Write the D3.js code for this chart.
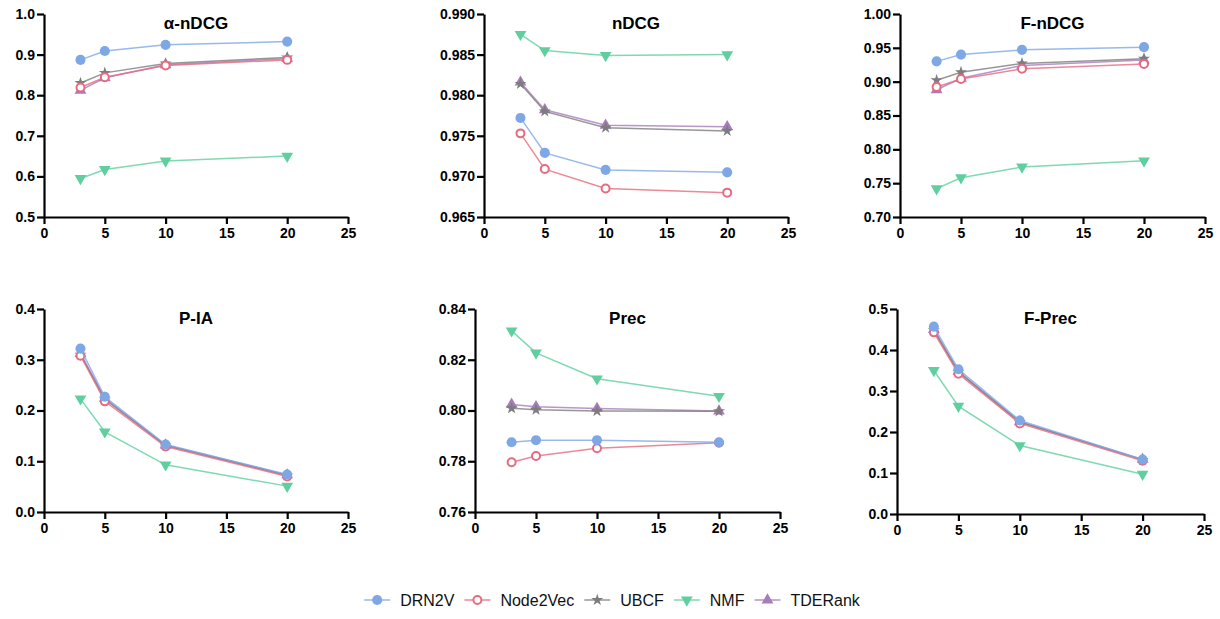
<!DOCTYPE html>
<html lang="en">
<head>
  <meta charset="UTF-8">
  <title>Top-k metric curves</title>
  <style>
    * { margin: 0; padding: 0; box-sizing: border-box; }
    body { background: #ffffff; font-family: 'Liberation Sans', Arial, sans-serif; }
    .axis path, .axis line { stroke: #000; stroke-width: 2.2; }
    .axis text { font-size: 14px; font-weight: bold; fill: #000; font-family: 'Liberation Sans', Arial, sans-serif; }
    .title { font-size: 17px; font-weight: bold; text-anchor: middle; fill: #000; }
    .legend text { font-size: 16px; fill: #111; }
  </style>
  <script src="https://cdn.jsdelivr.net/npm/d3@7/dist/d3.min.js"></script>
</head>
<body>
  <svg id="chart" width="1220" height="619"></svg>

  <script>
    // x = cutoff k
    const kValues = [3, 5, 10, 20];
    const xTicks = [0, 5, 10, 15, 20, 25];
    const methods = ['DRN2V', 'Node2Vec', 'UBCF', 'NMF', 'TDERank'];

    // one row per method, same order as `methods`
    const alphaNDCG = [
      [0.887, 0.909, 0.924, 0.932],
      [0.819, 0.844, 0.873, 0.887],
      [0.830, 0.855, 0.878, 0.893],
      [0.595, 0.617, 0.638, 0.650],
      [0.812, 0.843, 0.875, 0.890]
    ];
    const nDCG = [
      [0.9772, 0.9729, 0.9708, 0.9705],
      [0.9753, 0.9709, 0.9685, 0.9680],
      [0.9814, 0.9780, 0.9760, 0.9756],
      [0.9875, 0.9855, 0.9849, 0.9850],
      [0.9816, 0.9782, 0.9763, 0.9761]
    ];
    const fNDCG = [
      [0.930, 0.940, 0.947, 0.951],
      [0.892, 0.904, 0.919, 0.926],
      [0.902, 0.914, 0.927, 0.934],
      [0.742, 0.758, 0.774, 0.783],
      [0.888, 0.905, 0.924, 0.932]
    ];
    const pIA = [
      [0.322, 0.227, 0.133, 0.074],
      [0.308, 0.218, 0.129, 0.070],
      [0.310, 0.222, 0.131, 0.072],
      [0.223, 0.158, 0.093, 0.051],
      [0.312, 0.224, 0.132, 0.073]
    ];
    const prec = [
      [0.7875, 0.7883, 0.7883, 0.7875],
      [0.7796, 0.7821, 0.7851, 0.7873],
      [0.8009, 0.8003, 0.7998, 0.7997],
      [0.8314, 0.8227, 0.8125, 0.8056],
      [0.8024, 0.8015, 0.8008, 0.7998]
    ];
    const fPrec = [
      [0.457, 0.353, 0.228, 0.133],
      [0.443, 0.342, 0.221, 0.130],
      [0.448, 0.346, 0.224, 0.132],
      [0.350, 0.263, 0.167, 0.097],
      [0.450, 0.348, 0.225, 0.133]
    ];

    const titles = ['α-nDCG', 'nDCG', 'F-nDCG', 'P-IA', 'Prec', 'F-Prec'];
    const metricData = [alphaNDCG, nDCG, fNDCG, pIA, prec, fPrec];
    const yTicks = [
      [0.5, 0.6, 0.7, 0.8, 0.9, 1.0],
      [0.965, 0.970, 0.975, 0.980, 0.985, 0.990],
      [0.70, 0.75, 0.80, 0.85, 0.90, 0.95, 1.00],
      [0.0, 0.1, 0.2, 0.3, 0.4],
      [0.76, 0.78, 0.80, 0.82, 0.84],
      [0.0, 0.1, 0.2, 0.3, 0.4, 0.5]
    ];
    const yFormats = ['.1f', '.3f', '.2f', '.1f', '.2f', '.1f'];

    // plot boxes in page pixels
    const boxes = [
      { left: 44,  right: 348,  top: 14,  bottom: 217 },
      { left: 484, right: 788,  top: 14,  bottom: 217 },
      { left: 900, right: 1205, top: 14,  bottom: 217 },
      { left: 44,  right: 348,  top: 309, bottom: 512 },
      { left: 475, right: 780,  top: 309, bottom: 512 },
      { left: 897, right: 1204, top: 309, bottom: 514 }
    ];

    const style = {
      DRN2V:    { color: '#7ea7e6', symbol: d3.symbolCircle,   size: 80, open: false, rot: 0 },
      Node2Vec: { color: '#e66a80', symbol: d3.symbolCircle,   size: 50, open: true,  rot: 0 },
      UBCF:     { color: '#7d7d7d', symbol: d3.symbolStar,     size: 45, open: false, rot: 0 },
      NMF:      { color: '#5fcf9f', symbol: d3.symbolTriangle, size: 60, open: false, rot: 180 },
      TDERank:  { color: '#a87bba', symbol: d3.symbolTriangle, size: 60, open: false, rot: 0 }
    };

    const svg = d3.select('#chart');
    svg.append('rect').attr('width', 1220).attr('height', 619).attr('fill', '#fff');

    function marker(sel, name, x, y) {
      const s = style[name];
      sel.append('path')
        .attr('d', d3.symbol().type(s.symbol).size(s.size)())
        .attr('transform', `translate(${x},${y}) rotate(${s.rot})`)
        .attr('fill', s.open ? '#fff' : s.color)
        .attr('stroke', s.open ? s.color : 'none')
        .attr('stroke-width', s.open ? 2 : 0);
    }

    // drawing order: TDERank first, DRN2V on top
    const drawOrder = [4, 3, 2, 1, 0];

    metricData.forEach((rows, p) => {
      const b = boxes[p];
      const x = d3.scaleLinear().domain([0, 25]).range([b.left, b.right]);
      const ticks = yTicks[p];
      const y = d3.scaleLinear().domain([ticks[0], ticks[ticks.length - 1]]).range([b.bottom, b.top]);
      const g = svg.append('g');

      g.append('g').attr('class', 'axis')
        .attr('transform', `translate(0,${b.bottom})`)
        .call(d3.axisBottom(x).tickValues(xTicks).tickFormat(d3.format('d'))
          .tickSize(7).tickSizeOuter(0).tickPadding(4));

      g.append('g').attr('class', 'axis')
        .attr('transform', `translate(${b.left},0)`)
        .call(d3.axisLeft(y).tickValues(ticks).tickFormat(d3.format(yFormats[p]))
          .tickSize(7).tickSizeOuter(0).tickPadding(2));

      g.append('text').attr('class', 'title')
        .attr('x', (b.left + b.right) / 2).attr('y', b.top + 15)
        .text(titles[p]);

      const line = d3.line().x((d, i) => x(kValues[i])).y(d => y(d));

      drawOrder.forEach(m => {
        const name = methods[m];
        const vals = rows[m];
        g.append('path')
          .attr('d', line(vals))
          .attr('fill', 'none')
          .attr('stroke', style[name].color)
          .attr('stroke-opacity', 0.8)
          .attr('stroke-width', 1.5);
        const mg = g.append('g');
        vals.forEach((v, i) => marker(mg, name, x(kValues[i]), y(v)));
      });
    });

    // legend, centred under the panels
    const legend = svg.append('g').attr('class', 'legend');
    const legendY = 600;
    const items = [];
    let cursor = 0;
    methods.forEach(name => {
      const it = legend.append('g');
      it.append('line')
        .attr('x1', 0).attr('x2', 26).attr('y1', 0).attr('y2', 0)
        .attr('stroke', style[name].color).attr('stroke-width', 1.5).attr('stroke-opacity', 0.8);
      marker(it, name, 13, 0);
      const t = it.append('text').attr('x', 36).attr('y', 6).text(name);
      const w = 36 + t.node().getComputedTextLength();
      items.push({ it, offset: cursor });
      cursor += w + 10;
    });
    const total = cursor - 10;
    const startX = 612 - total / 2;
    items.forEach(d => d.it.attr('transform', `translate(${startX + d.offset},${legendY})`));
  </script>
</body>
</html>
